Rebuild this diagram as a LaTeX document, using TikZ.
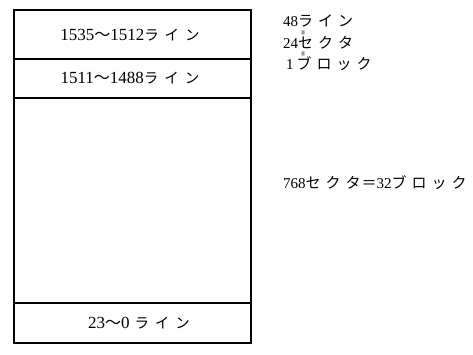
\documentclass[tikz,border=0pt]{standalone}
\usepackage{fontspec}
\setmainfont{Liberation Serif}
\newfontfamily\jp{Noto Sans CJK JP}
\tikzset{
  boxline/.style={line width=1.4pt},
  rowlabel/.style={font=\fontsize{17}{19}\selectfont, inner sep=0pt},
  sidelabel/.style={font=\fontsize{15}{17}\selectfont, inner sep=0pt, anchor=west},
  eqmark/.style={font=\bfseries\fontsize{9}{9}\selectfont, inner sep=0pt}
}
\newcommand{\kana}[1]{{\jp\fontsize{14.5}{16}\selectfont #1}}
\newcommand{\kanb}[1]{{\jp\fontsize{15}{17}\selectfont #1}}
\newcommand{\wave}{{\jp\fontsize{16}{18}\selectfont 〜}}
\newcommand{\ks}{\hspace{6pt}}
\newcommand{\kt}{\hspace{5pt}}
\begin{document}
\begin{tikzpicture}[x=1pt,y=-1pt]
\useasboundingbox (0,0) rectangle (473,355);
% box
\draw[boxline] (14,10) rectangle (251,343);
\draw[boxline] (14,59) -- (251,59);
\draw[boxline] (14,98) -- (251,98);
\draw[boxline] (14,303) -- (251,303);
% row labels
\node[rowlabel] (r1) at (130,35) {1535\wave 1512\kana{ラ\ks イ\ks ン}};
\node[rowlabel] (r2) at (130,78) {1511\wave 1488\kana{ラ\ks イ\ks ン}};
\node[rowlabel] (r3) at (139,323) {23\wave 0\hspace{5pt}\kana{ラ\ks イ\ks ン}};
% side labels
\node[sidelabel] (s1) at (283,21) {48\kanb{ラ\kt イ\kt ン}};
\node[eqmark] (e1) at (304,32.5) {\rotatebox{90}{=}};
\node[sidelabel] (s2) at (283,43) {24\kanb{セ\kt ク\kt タ}};
\node[eqmark] (e2) at (304,53.5) {\rotatebox{90}{=}};
\node[sidelabel] (s3) at (286,64) {1\hspace{3pt}\kanb{ブ\kt ロ\kt ッ\kt ク}};
\node[sidelabel] (s4) at (283,183) {768\kanb{セ\kt ク\kt タ\hspace{1pt}＝}32\kanb{ブ\kt ロ\kt ッ\kt ク}};
\end{tikzpicture}
\end{document}
